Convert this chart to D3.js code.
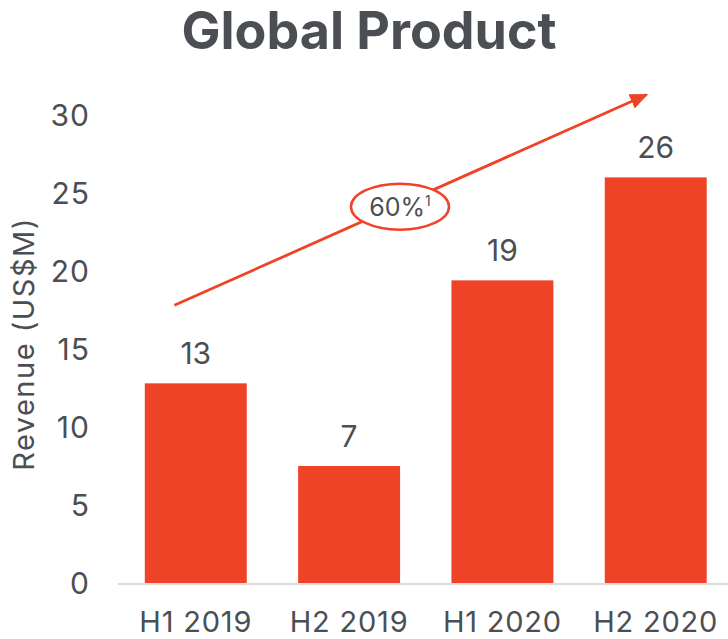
<!DOCTYPE html>
<html>
<head>
<meta charset="utf-8">
<script src="https://cdn.jsdelivr.net/npm/d3@7"></script>
<style>
  body { margin: 0; background: #fff; }
  text { font-family: Inter, Lato, sans-serif; fill: #4b4f54; font-weight: 400; }
</style>
</head>
<body>
<div id="chart"></div>
<script>
// chart data
var periods = ["H1 2019", "H2 2019", "H1 2020", "H2 2020"];
var revenue = [12.8, 7.5, 19.4, 26.0];
var revenueLabels = ["13", "7", "19", "26"];
var yTicks = [0, 5, 10, 15, 20, 25, 30];
var growthLabel = "60%";
var growthNote = "1";
// trend arrow runs from (first period, 17.8) to (last period, 31.3)
var trendFrom = 17.8, trendTo = 31.3;

var width = 728, height = 639;
var orange = "#ef4328";
var font = "Inter, Lato, sans-serif";

var svg = d3.select("#chart").append("svg")
    .attr("width", width)
    .attr("height", height);

var x = d3.scaleBand()
    .domain(periods)
    .range([119.5, 732])
    .paddingInner(0.335)
    .paddingOuter(0.165);

var y = d3.scaleLinear()
    .domain([0, 30])
    .range([583, 115]);

// Title
svg.append("text")
    .attr("x", 369)
    .attr("y", 49)
    .attr("text-anchor", "middle")
    .style("font-size", "52px")
    .style("font-weight", "700")
    .text("Global Product");

// Y axis (labels only)
var yAxis = d3.axisLeft(y)
    .tickValues(yTicks)
    .tickSize(0)
    .tickPadding(0);
var yAxisEl = svg.append("g")
    .attr("transform", "translate(90,0)")
    .call(yAxis);
yAxisEl.select(".domain").remove();
yAxisEl.selectAll("text")
    .attr("dy", "0.36em")
    .style("font-size", "30px")
    .style("letter-spacing", "1px")
    .style("fill", "#4b4f54")
    .style("font-family", font);

svg.append("text")
    .attr("transform", "translate(34,344) rotate(-90)")
    .attr("text-anchor", "middle")
    .style("font-size", "29px")
    .style("letter-spacing", "1.5px")
    .text("Revenue (US$M)");

// Bars
svg.selectAll(".bar")
    .data(revenue)
    .enter().append("rect")
    .attr("class", "bar")
    .attr("x", function(d, i) { return x(periods[i]); })
    .attr("width", x.bandwidth())
    .attr("y", function(d) { return y(d); })
    .attr("height", function(d) { return y(0) - y(d); })
    .attr("fill", orange);

// Value labels
svg.selectAll(".value")
    .data(revenue)
    .enter().append("text")
    .attr("class", "value")
    .attr("x", function(d, i) { return x(periods[i]) + x.bandwidth() / 2; })
    .attr("y", function(d) { return y(d) - 19; })
    .attr("text-anchor", "middle")
    .style("font-size", "30px")
    .text(function(d, i) { return revenueLabels[i]; });

// X axis
var xAxis = d3.axisBottom(x).tickSize(0).tickPadding(0);
var xAxisEl = svg.append("g")
    .attr("transform", "translate(0," + y(0) + ")")
    .call(xAxis);
xAxisEl.select(".domain").remove();
xAxisEl.selectAll("text")
    .attr("y", 49)
    .attr("dy", 0)
    .style("font-size", "29px")
    .style("letter-spacing", "0.8px")
    .style("fill", "#4b4f54")
    .style("font-family", font);
svg.append("line")
    .attr("x1", 118)
    .attr("x2", width)
    .attr("y1", y(0) + 1)
    .attr("y2", y(0) + 1)
    .attr("stroke", "#dcdcdc")
    .attr("stroke-width", 2);

// Trend arrow
var defs = svg.append("defs");
defs.append("marker")
    .attr("id", "arrowhead")
    .attr("viewBox", "0 0 10 10")
    .attr("refX", 9)
    .attr("refY", 5)
    .attr("markerWidth", 6.5)
    .attr("markerHeight", 5.5)
    .attr("orient", "auto")
    .attr("markerUnits", "strokeWidth")
    .attr("preserveAspectRatio", "none")
    .append("path")
    .attr("d", "M0,0 L10,5 L0,10 z")
    .attr("fill", orange);

var ax1 = x(periods[0]) + x.bandwidth() * 0.29,
    ay1 = y(trendFrom),
    ax2 = x(periods[3]) + x.bandwidth() * 0.41,
    ay2 = y(trendTo);
svg.append("line")
    .attr("x1", ax1).attr("y1", ay1)
    .attr("x2", ax2).attr("y2", ay2)
    .attr("stroke", orange)
    .attr("stroke-width", 2.8)
    .attr("marker-end", "url(#arrowhead)");

// Growth badge
var bx = 400, by = ay1 + (ay2 - ay1) * ((bx - ax1) / (ax2 - ax1)) + 2;
svg.append("ellipse")
    .attr("cx", bx)
    .attr("cy", by)
    .attr("rx", 49)
    .attr("ry", 23)
    .attr("fill", "#fff")
    .attr("stroke", orange)
    .attr("stroke-width", 2.5);
var badge = svg.append("text")
    .attr("x", bx)
    .attr("y", by + 9)
    .attr("text-anchor", "middle")
    .style("font-size", "25px");
badge.append("tspan").text(growthLabel);
badge.append("tspan")
    .attr("dy", -10)
    .style("font-size", "14px")
    .text(growthNote);
</script>
</body>
</html>
